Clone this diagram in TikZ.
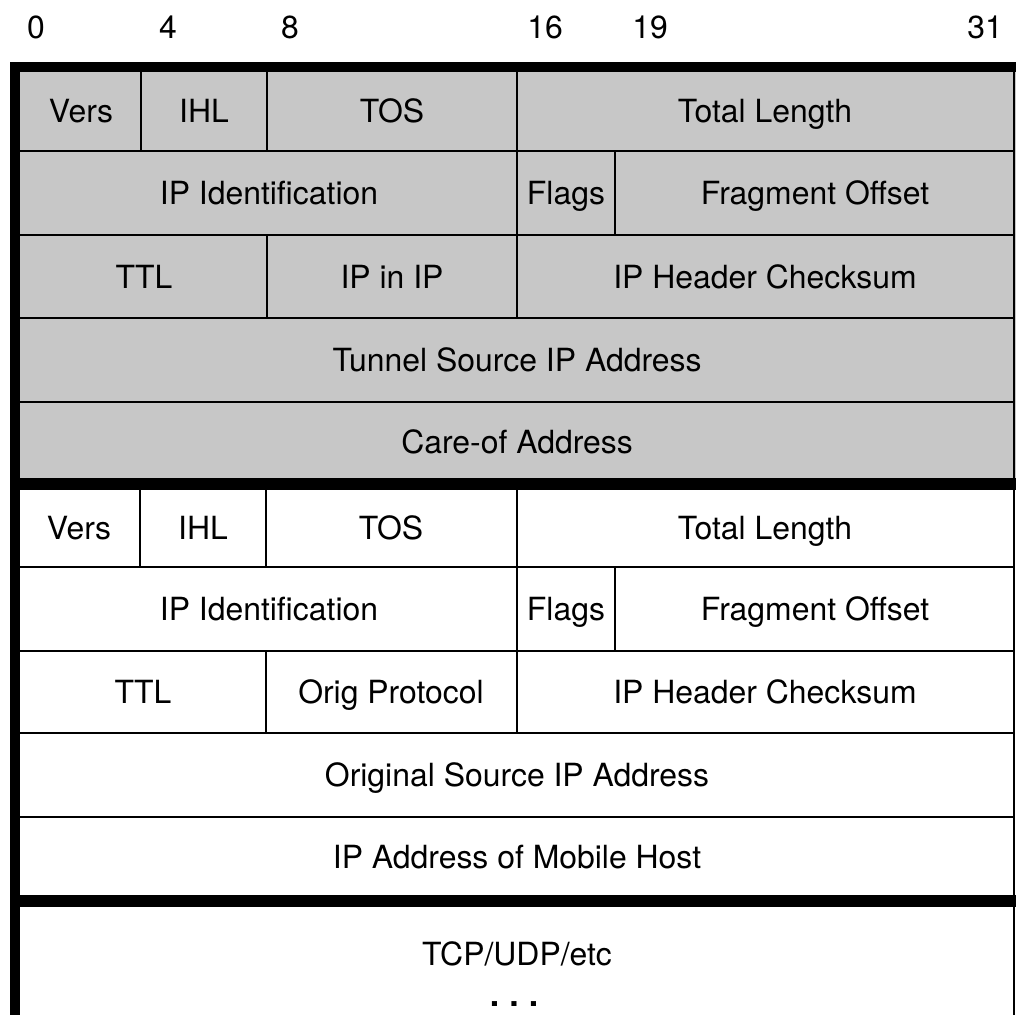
\documentclass[tikz,border=0pt]{standalone}
\usepackage{fontspec}
\setmainfont{TeX Gyre Heros}
\definecolor{hdrgray}{gray}{0.78}
\begin{document}
\begin{tikzpicture}[x=0.025cm,y=-0.025cm,
  thinrule/.style={line width=2.1pt,black},
  thickrule/.style={line width=7.2pt,black},
  sepline/.style={line width=8.5pt,black},
  lbl/.style={font=\fontsize{22.7}{26}\selectfont,inner sep=0pt,text height=16.3pt,text depth=0pt,anchor=center},
  bitlbl/.style={font=\fontsize{22.7}{26}\selectfont,inner sep=0pt,text height=16.3pt,text depth=0pt,anchor=center}]
\useasboundingbox (0,0) rectangle (1016,1015);
% shaded area
\fill[hdrgray] (15,67) rectangle (1016,484);
% thin horizontal rules
\foreach \y in {151,235,318,402,567,651,733,817}
  \draw[thinrule] (15,\y) -- (1014,\y);
% thin vertical rules (shaded)
\foreach \x in {141,267,517} \draw[thinrule] (\x,67) -- (\x,151);
\foreach \x in {517,615} \draw[thinrule] (\x,151) -- (\x,235);
\foreach \x in {267,517} \draw[thinrule] (\x,235) -- (\x,318);
% thin vertical rules (white)
\foreach \x in {140,266,517} \draw[thinrule] (\x,484) -- (\x,567);
\foreach \x in {517,615} \draw[thinrule] (\x,567) -- (\x,651);
\foreach \x in {266,517} \draw[thinrule] (\x,651) -- (\x,733);
% right edge
\draw[thinrule] (1014,67) -- (1014,1015);
% thick rules
\draw[thickrule] (15,62) -- (15,1015);
\draw[thickrule] (10,67) -- (1016,67);
\draw[sepline] (10,484) -- (1016,484);
\draw[sepline] (10,901) -- (1016,901);
% bit labels
\node[bitlbl] (b0) at (36,27) {0};
\node[bitlbl] (b4) at (168,27) {4};
\node[bitlbl] (b8) at (290,27) {8};
\node[bitlbl] (b16) at (545,27) {16};
\node[bitlbl] (b19) at (650,27) {19};
\node[bitlbl] (b31) at (985,27) {31};
% outer header
\node[lbl] (overs) at (81,111) {Vers};
\node[lbl] (oihl) at (204,111) {IHL};
\node[lbl] (otos) at (392,111) {TOS};
\node[lbl] (olen) at (765,111) {Total Length};
\node[lbl] (oid) at (269,193) {IP Identification};
\node[lbl] (oflags) at (566,193) {Flags};
\node[lbl] (ofrag) at (815,193) {Fragment Offset};
\node[lbl] (ottl) at (144,277) {TTL};
\node[lbl] (oproto) at (392,277) {IP in IP};
\node[lbl] (ocsum) at (765,277) {IP Header Checksum};
\node[lbl] (osrc) at (517,360) {Tunnel Source IP Address};
\node[lbl] (odst) at (517,442) {Care-of Address};
% inner header
\node[lbl] (ivers) at (79,528) {Vers};
\node[lbl] (iihl) at (203,528) {IHL};
\node[lbl] (itos) at (391,528) {TOS};
\node[lbl] (ilen) at (765,528) {Total Length};
\node[lbl] (iid) at (269,609) {IP Identification};
\node[lbl] (iflags) at (566,609) {Flags};
\node[lbl] (ifrag) at (815,609) {Fragment Offset};
\node[lbl] (ittl) at (143,692) {TTL};
\node[lbl] (iproto) at (391,692) {Orig Protocol};
\node[lbl] (icsum) at (765,692) {IP Header Checksum};
\node[lbl] (isrc) at (517,775) {Original Source IP Address};
\node[lbl] (idst) at (517,857) {IP Address of Mobile Host};
% payload
\node[lbl] (payload) at (517,954) {TCP/UDP/etc};
\node[lbl,font=\fontsize{24}{26}\selectfont\bfseries,text height=3pt] (dots) at (514,1004) {.\hspace{0.3em}.\hspace{0.3em}.};
\end{tikzpicture}
\end{document}
